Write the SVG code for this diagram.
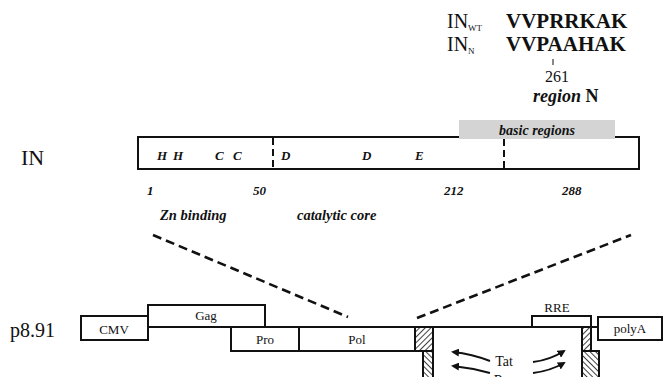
<svg xmlns="http://www.w3.org/2000/svg" width="665" height="377" viewBox="0 0 665 377">
<style>
text{font-family:"Liberation Serif","Times New Roman",serif;fill:#111}
.bi{font-weight:bold;font-style:italic}
.b{font-weight:bold}
.box{fill:#fff;stroke:#111;stroke-width:2}
.ln{stroke:#111;stroke-width:2;fill:none}
.dash{stroke:#111;stroke-width:2.6;stroke-dasharray:9 5;fill:none}
.vd{stroke:#111;stroke-width:2;stroke-dasharray:7 4;fill:none}
.arr{stroke:#111;stroke-width:2;fill:none;marker-end:url(#ah)}
</style>
<defs>
<pattern id="h1" width="4" height="4" patternUnits="userSpaceOnUse" patternTransform="rotate(45)">
<rect width="4" height="4" fill="#fff"/><line x1="0" y1="0" x2="0" y2="4" stroke="#111" stroke-width="1.6"/>
</pattern>
<pattern id="h2" width="4" height="4" patternUnits="userSpaceOnUse" patternTransform="rotate(-45)">
<rect width="4" height="4" fill="#fff"/><line x1="0" y1="0" x2="0" y2="4" stroke="#111" stroke-width="1.6"/>
</pattern>
<marker id="ah" markerWidth="8" markerHeight="8" refX="6" refY="4" orient="auto" markerUnits="userSpaceOnUse">
<path d="M0,0 L8,4 L0,8 Z" fill="#111"/>
</marker>
</defs>

<g id="sequence">
<text x="447" y="28" font-size="20">IN<tspan font-size="9" dy="3">WT</tspan></text>
<text x="447" y="51" font-size="20">IN<tspan font-size="9" dy="3">N</tspan></text>
<text x="506" y="28" font-size="21" class="b">VVPRRKAK</text>
<text x="506" y="51" font-size="21" class="b">VVPAAHAK</text>
<line x1="553" y1="59" x2="553" y2="65" stroke="#111" stroke-width="1"/>
<text x="557" y="82" font-size="16" text-anchor="middle">261</text>
<text x="533" y="102" font-size="18" class="bi">region <tspan font-style="normal">N</tspan></text>
</g>

<g id="in-label"><text x="21" y="165" font-size="22">IN</text></g>

<g id="in-protein">
<rect x="138" y="137" width="501" height="32" class="box"/>
<rect x="459" y="120" width="156" height="19" fill="#d4d4d4"/>
<text x="537" y="135" font-size="14" class="bi" text-anchor="middle">basic regions</text>
<line x1="273" y1="138" x2="273" y2="169" class="vd"/>
<line x1="504" y1="139" x2="504" y2="169" class="vd"/>
<g font-size="13" class="bi">
<text x="157" y="160">H</text><text x="173" y="160">H</text>
<text x="215" y="160">C</text><text x="233" y="160">C</text>
<text x="281" y="160">D</text><text x="362" y="160">D</text>
<text x="415" y="160">E</text>
</g>
</g>

<g id="in-numbers">
<text x="147" y="195" font-size="13" class="bi">1</text>
<text x="253" y="195" font-size="13" class="bi">50</text>
<text x="444" y="195" font-size="13" class="bi">212</text>
<text x="562" y="195" font-size="13" class="bi">288</text>
<text x="160" y="220" font-size="14.5" class="bi">Zn binding</text>
<text x="297" y="220" font-size="14.5" class="bi">catalytic core</text>
</g>

<g id="connectors">
<line x1="153" y1="235" x2="348" y2="317" class="dash"/>
<line x1="417" y1="318" x2="631" y2="235" class="dash"/>
<path d="M490,361 Q472,354 453,352" class="arr"/>
<path d="M490,373 Q472,368 453,366" class="arr"/>
<path d="M533,362 Q550,360 564,351" class="arr"/>
<path d="M533,373 Q550,371 564,363" class="arr"/>
</g>

<g id="p891-label"><text x="10" y="337" font-size="20">p8.91</text></g>

<g id="backbone"><line x1="148" y1="327" x2="598" y2="327" class="ln"/></g>

<g id="cmv"><rect x="81" y="316" width="67" height="24" class="box"/><text x="114" y="334" font-size="13" text-anchor="middle">CMV</text></g>
<g id="gag"><rect x="148" y="305" width="117" height="22" class="box"/><text x="206" y="320" font-size="13" text-anchor="middle">Gag</text></g>
<g id="pro"><rect x="231" y="327" width="68" height="24" class="box"/><text x="265" y="344" font-size="13" text-anchor="middle">Pro</text></g>
<g id="pol"><rect x="299" y="327" width="116" height="24" class="box"/><text x="357" y="344" font-size="13" text-anchor="middle">Pol</text></g>
<g id="hatch-left">
<rect x="415" y="327" width="18" height="24" fill="url(#h1)" stroke="#111" stroke-width="2"/>
<rect x="423" y="351" width="10" height="30" fill="url(#h2)" stroke="#111" stroke-width="2"/>
</g>
<g id="rre"><rect x="532" y="316" width="59" height="11" class="box"/><text x="557" y="312" font-size="13" text-anchor="middle">RRE</text></g>
<g id="hatch-right">
<rect x="582" y="327" width="9" height="24" fill="url(#h1)" stroke="#111" stroke-width="2"/>
<rect x="582" y="351" width="17" height="30" fill="url(#h2)" stroke="#111" stroke-width="2"/>
</g>
<g id="polya"><rect x="598" y="317" width="64" height="23" class="box"/><text x="630" y="333" font-size="13" text-anchor="middle">polyA</text></g>
<g id="tat-rev">
<text x="504" y="366" font-size="14" text-anchor="middle">Tat</text>
<text x="505" y="385" font-size="14" text-anchor="middle">Rev</text>
</g>
</svg>
